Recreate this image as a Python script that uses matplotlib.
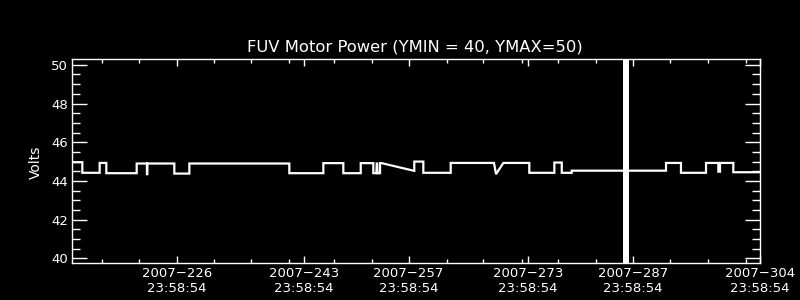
import matplotlib
matplotlib.use("Agg")
import matplotlib.pyplot as plt
import numpy as np

plt.rcParams["font.family"] = ["DejaVu Sans"]

# time in fractional day-of-year 2007 (tick "2007-226 23:58:54" = 226 + 23:58:54)
tick_doy = [226, 243, 257, 273, 287, 304]
tick_time = "23:58:54"
tod = (23 + 58 / 60 + 54 / 3600) / 24.0
tick_labels = [f"2007\u2212{d}\n{tick_time}" for d in tick_doy]
minor_ticks = [217.05, 222.0, 232.03, 237.0, 242.06, 248.08, 253.08, 263.1, 268.0,
               273.14, 278.03, 283.03, 292.97, 298.09, 303.09]
x_start = 212 + tod
x_end = 304 + tod

# piecewise segments of FUV motor power: start time, end time, level (Volts)
seg_start = [213.00, 214.38, 216.70, 217.59, 221.65, 223.02, 223.07, 226.68, 228.69,
             242.06, 246.61, 249.28, 251.61, 253.29, 253.75, 253.85, 254.19, 258.77,
             258.77, 259.98, 263.64, 269.70, 270.68, 274.15, 277.50, 278.49, 279.82,
             292.43, 294.43, 297.78, 299.43, 299.65, 301.43]
seg_end = [214.38, 216.70, 217.59, 221.65, 223.02, 223.07, 226.68, 228.69, 242.06,
           246.61, 249.28, 251.61, 253.29, 253.70, 253.80, 254.19, 254.41, 258.77,
           259.98, 263.64, 269.43, 269.70, 274.15, 277.50, 278.49, 279.82, 292.43,
           294.43, 297.78, 299.43, 299.65, 301.43, 305.00]
seg_level = [44.97, 44.42, 44.93, 44.40, 44.90, 44.35, 44.90, 44.38, 44.90,
             44.40, 44.92, 44.40, 44.92, 44.40, 44.90, 44.40, 44.92, 44.52,
             45.00, 44.42, 44.93, 44.35, 44.93, 44.42, 44.95, 44.42, 44.53,
             44.93, 44.42, 44.93, 44.48, 44.93, 44.45]

# data dropout band (off-scale values)
gap_start = [286.70]
gap_end = [287.52]

title = "FUV Motor Power (YMIN = 40, YMAX=50)"
ylabel = "Volts"
ymin, ymax = 40, 50

t = []
v = []
for s, e, lv in zip(seg_start, seg_end, seg_level):
    t += [s, e]
    v += [lv, lv]

fig = plt.figure(figsize=(8, 3), dpi=100, facecolor="black")
ax = fig.add_axes([72 / 800, 1 - 263 / 300, 688 / 800, 204 / 300], facecolor="black")

ax.plot(t, v, color="white", lw=1.6, solid_joinstyle="miter")
for gs, ge in zip(gap_start, gap_end):
    ax.axvspan(gs, ge, color="white", lw=0)

ax.set_xlim(x_start, x_end)
ax.set_ylim(39.76, 50.3)

ax.set_xticks([d + tod for d in tick_doy])
ax.set_xticklabels(tick_labels)
ax.set_xticks(minor_ticks, minor=True)
ax.set_yticks(np.arange(ymin, ymax + 1, 2))
ax.set_yticks(np.arange(ymin, ymax + 0.01, 0.5), minor=True)

for sp in ax.spines.values():
    sp.set_color("white")
    sp.set_linewidth(1.0)

ax.tick_params(axis="x", which="major", direction="in", length=5, width=1,
               colors="white", top=True, labelsize=9.5, pad=3)
ax.tick_params(axis="x", which="minor", direction="in", length=2.8, width=1,
               colors="white", top=True)
ax.tick_params(axis="y", which="major", direction="in", length=10.5, width=1,
               colors="white", right=True, labelsize=9.5, pad=3)
ax.tick_params(axis="y", which="minor", direction="in", length=5.5, width=1,
               colors="white", right=True)

fig.text(415 / 800, 1 - 47 / 300, title, color="white", fontsize=11.8,
         ha="center", va="center")
fig.text(36 / 800, 1 - 162 / 300, ylabel, color="white", fontsize=10,
         rotation=90, ha="center", va="center")

fig.savefig("out.png", dpi=100, facecolor="black")
